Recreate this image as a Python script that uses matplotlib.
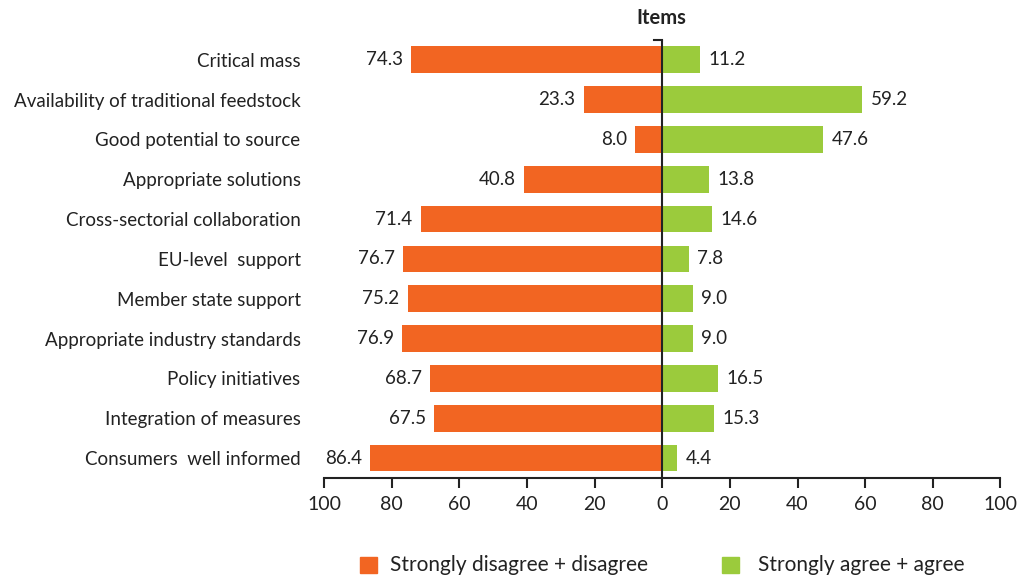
import numpy as np
import matplotlib
matplotlib.use("Agg")
import matplotlib.pyplot as plt
from matplotlib.patches import Rectangle

plt.rcParams['font.family'] = ['Lato', 'DejaVu Sans']

items = ["Critical mass", "Availability of traditional feedstock", "Good potential to source",
         "Appropriate solutions", "Cross-sectorial collaboration", "EU-level  support",
         "Member state support", "Appropriate industry standards", "Policy initiatives",
         "Integration of measures", "Consumers  well informed"]
disagree = [74.3, 23.3, 8.0, 40.8, 71.4, 76.7, 75.2, 76.9, 68.7, 67.5, 86.4]
agree = [11.2, 59.2, 47.6, 13.8, 14.6, 7.8, 9.0, 9.0, 16.5, 15.3, 4.4]
ticks = [-100, -80, -60, -40, -20, 0, 20, 40, 60, 80, 100]

orange = "#F26522"
green = "#9BCB3C"
txt = "#222222"
fs = 13.5

fig = plt.figure(figsize=(10.26, 5.78), dpi=100)
ax = fig.add_axes([0.316, 0.173, 0.659, 0.758])

y = np.arange(len(items))
ax.barh(y, [-d for d in disagree], height=0.67, color=orange, zorder=2)
ax.barh(y, agree, height=0.67, color=green, zorder=2)

for i in range(len(items)):
    ax.text(-disagree[i] - 2.5, y[i], f"{disagree[i]:.1f}", ha='right', va='center', fontsize=fs, color=txt)
    ax.text(agree[i] + 2.5, y[i], f"{agree[i]:.1f}", ha='left', va='center', fontsize=fs, color=txt)

ax.set_xlim(-100, 100)
ax.set_ylim(len(items) - 0.5, -0.5)
ax.set_xticks(ticks)
ax.set_xticklabels([str(abs(t)) for t in ticks], fontsize=14, color=txt)
ax.set_yticks(y)
ax.set_yticklabels(items, fontsize=fs, color=txt)
ax.tick_params(axis='y', length=0, pad=17)
ax.tick_params(axis='x', length=7, width=1.5, color=txt, pad=6)

for s in ['top', 'right', 'left']:
    ax.spines[s].set_visible(False)
ax.spines['bottom'].set_linewidth(1.5)
ax.spines['bottom'].set_color(txt)

ax.axvline(0, color=txt, lw=1.5, zorder=3)
ax.plot([-2.5, 0], [-0.5, -0.5], color=txt, lw=1.5, zorder=3, clip_on=False)

fig.text(0.645, 0.968, "Items", ha='center', va='center', fontsize=14.5, fontweight='bold', color=txt)

# legend
fig.patches.append(Rectangle((0.351, 0.008), 0.0165, 0.029, transform=fig.transFigure, color=orange, figure=fig))
fig.text(0.380, 0.022, "Strongly disagree + disagree", ha='left', va='center', fontsize=15, color=txt)
fig.patches.append(Rectangle((0.704, 0.008), 0.0165, 0.029, transform=fig.transFigure, color=green, figure=fig))
fig.text(0.739, 0.022, "Strongly agree + agree", ha='left', va='center', fontsize=15, color=txt)

fig.savefig("out.png", dpi=100)
